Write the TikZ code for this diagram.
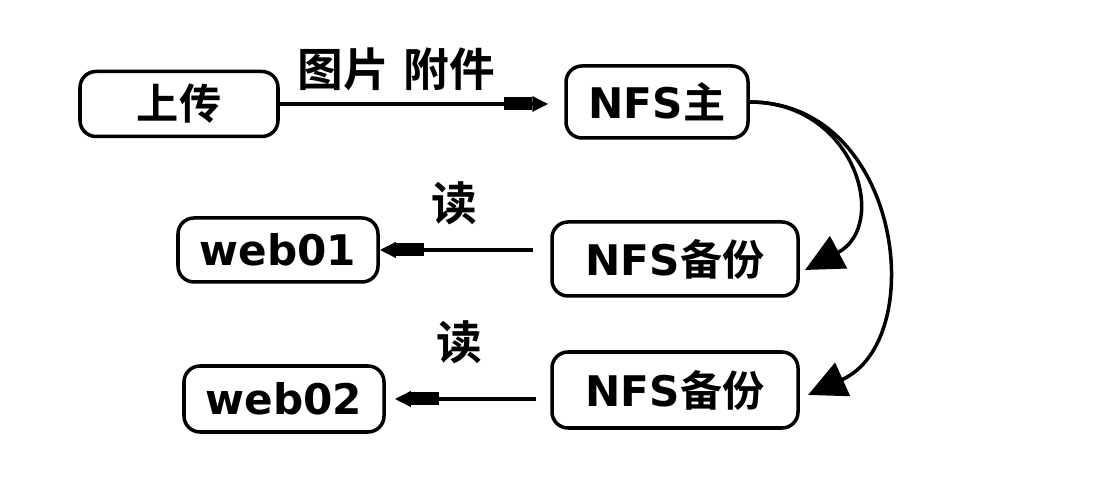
\documentclass[tikz,border=0pt]{standalone}
\usepackage{fontspec}
\setmainfont{DejaVu Sans}
\newfontfamily\cjk{Noto Sans CJK SC}[BoldFont={Noto Sans CJK SC Bold}]
\usetikzlibrary{arrows.meta,positioning}
\tikzset{box/.style={draw,line width=1pt,rounded corners=0.16cm,inner sep=0pt,
font=\bfseries\fontsize{12}{14}\selectfont},lbl/.style={inner sep=1pt,
font=\bfseries\fontsize{13}{15}\selectfont\cjk}}
\tikzset{arrow/.style={line width=1pt,-{Rectangle[length=0.28cm,width=0.13cm,sep=0pt]Triangle[length=0.16cm,width=0.15cm]}},
curve/.style={line width=1pt,-{Triangle[length=0.38cm,width=0.36cm]}}}

\begin{document}
\begin{tikzpicture}
		\useasboundingbox (0,0) rectangle (11.12,5.00);
		\node[box,minimum width=1.98cm,minimum height=0.65cm] (upload) at (1.79,3.96) {\cjk 上传};
		\node[box,minimum width=1.82cm,minimum height=0.72cm] (nfsmain) at (6.57,3.98) {NFS{\cjk 主}};
		\node[box,minimum width=2.46cm,minimum height=0.74cm] (backupa) at (6.75,2.41) {NFS{\cjk 备份}};
		\node[box,minimum width=2.46cm,minimum height=0.76cm] (backupb) at (6.75,1.10) {NFS{\cjk 备份}};
		\node[box,minimum width=2.00cm,minimum height=0.64cm] (weba) at (2.78,2.50) {web01};
		\node[box,minimum width=2.00cm,minimum height=0.66cm] (webb) at (2.84,1.01) {web02};
		\coordinate (tipa) at (8.05,2.30);
		\coordinate (tipb) at (8.08,1.05);
		\draw[arrow,shorten >=0.16cm] (upload.east) -- node[lbl,above=0.08cm,pos=0.41] {图片\hspace{0.1em} 附件} (upload.east -| nfsmain.west);
		\draw[arrow,shorten <=0.17cm] (backupa.west |- weba.east) -- node[lbl,above=0.2cm,pos=0.56] {读} (weba.east);
		\draw[arrow,shorten <=0.14cm,shorten >=0.09cm] (backupb.west |- webb.east) -- node[lbl,above=0.3cm,pos=0.55] {读} (webb.east);
		\draw[curve] (nfsmain.east) .. controls +(1.05,0) and +(0.85,0.45) .. (tipa);
		\draw[curve] (nfsmain.east) .. controls +(1.52,0) and +(1.22,0.55) .. (tipb);
	\end{tikzpicture}
\end{document}
